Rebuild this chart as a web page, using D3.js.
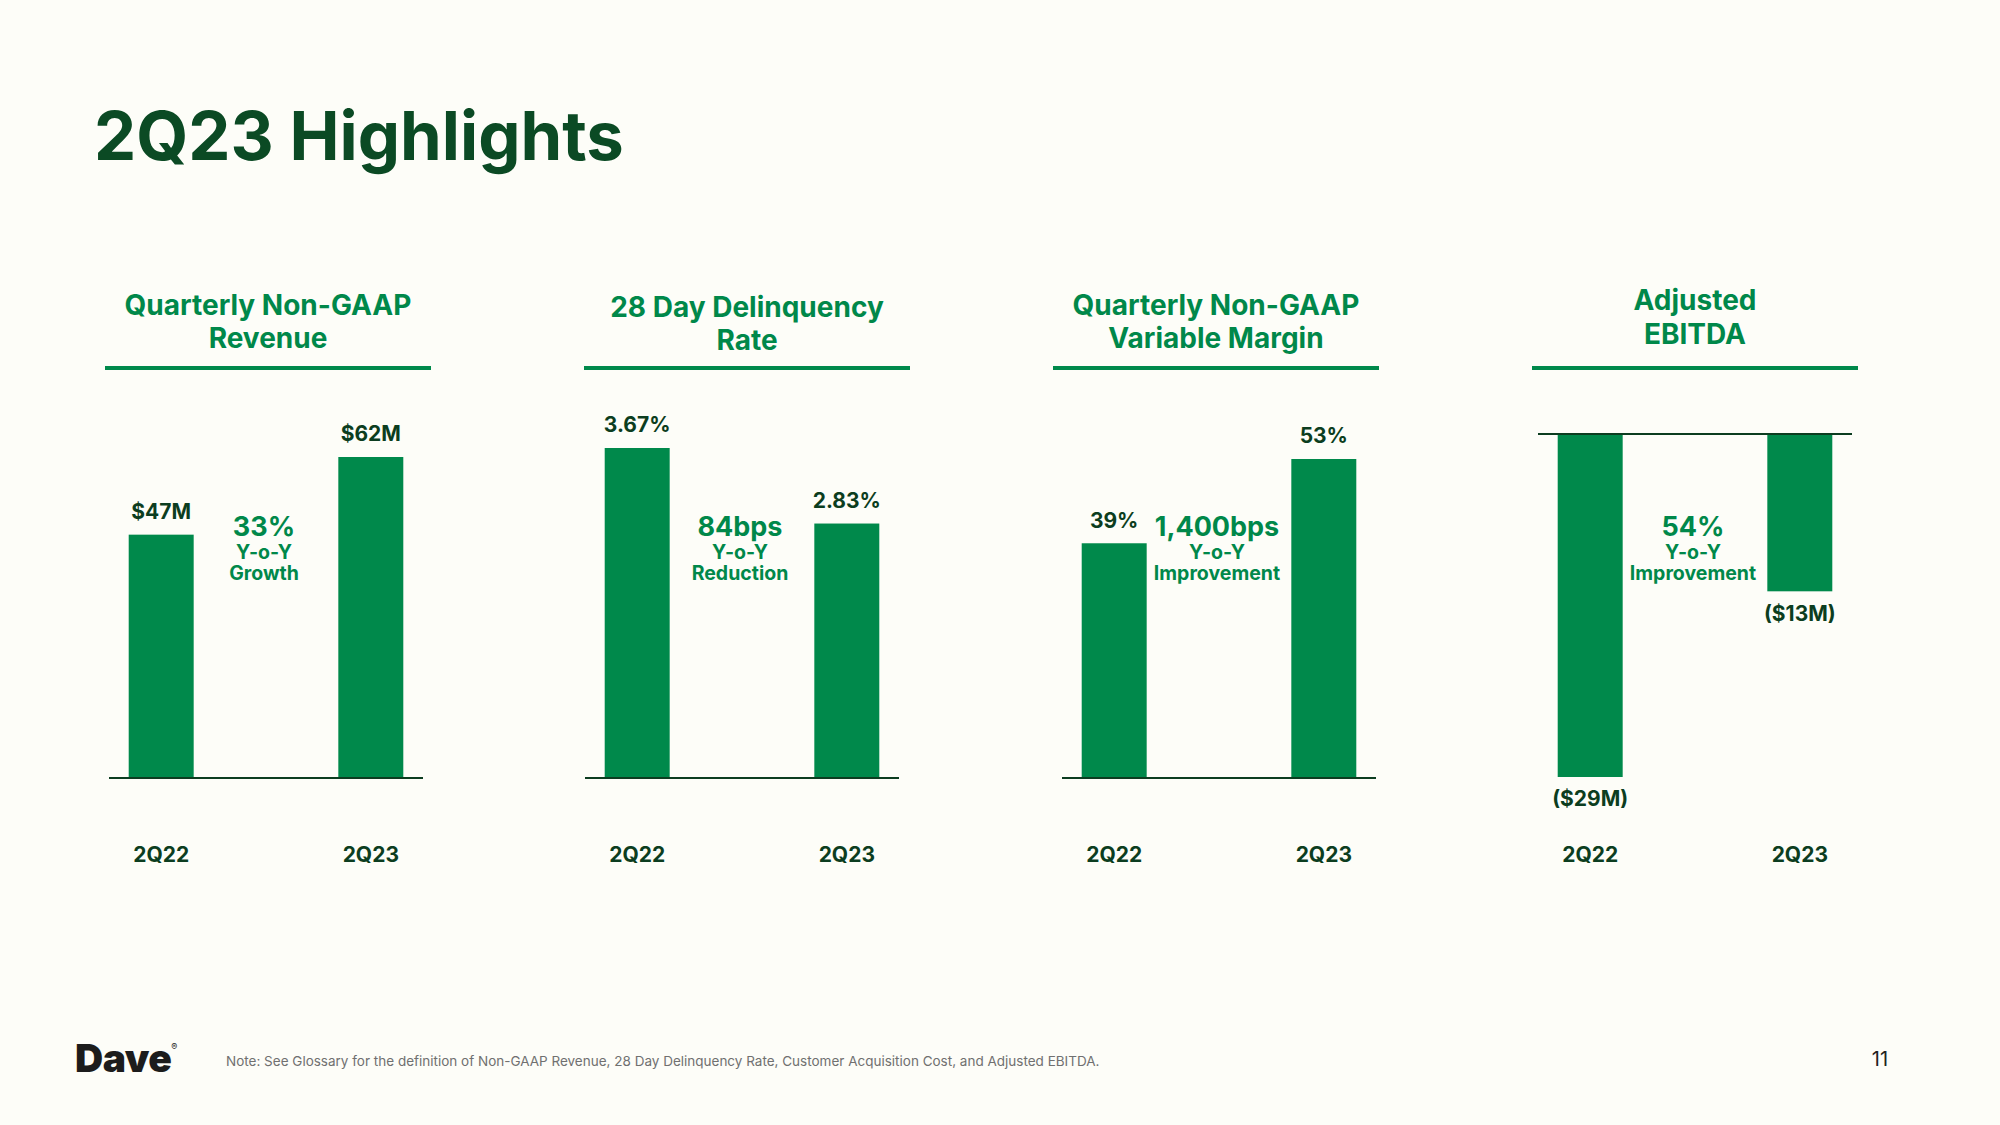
<!DOCTYPE html>
<html>
<head>
<meta charset="utf-8">
<script src="https://cdn.jsdelivr.net/npm/d3@7"></script>
<style>
  html, body { margin: 0; padding: 0; background: #fdfdf8; }
  svg { display: block; }
  text { font-family: Inter, "Noto Sans", sans-serif; }
</style>
</head>
<body>
<svg id="chart" width="2000" height="1125"></svg>
<script>
// ---------- data ----------
const categories = ["2Q22", "2Q23"];
const panelTitles = [
  ["Quarterly Non-GAAP", "Revenue"],
  ["28 Day Delinquency", "Rate"],
  ["Quarterly Non-GAAP", "Variable Margin"],
  ["Adjusted", "EBITDA"]
];
const revenue = [47, 62];
const delinquency = [3.67, 2.83];
const variableMargin = [39, 53];
const ebitda = [-29, -13.3];
const valueLabels = [
  ["$47M", "$62M"],
  ["3.67%", "2.83%"],
  ["39%", "53%"],
  ["($29M)", "($13M)"]
];
const changeValues = ["33%", "84bps", "1,400bps", "54%"];
const changeLine1 = ["Y-o-Y", "Y-o-Y", "Y-o-Y", "Y-o-Y"];
const changeLine2 = ["Growth", "Reduction", "Improvement", "Improvement"];
const mainTitle = "2Q23 Highlights";
const footNote = "Note: See Glossary for the definition of Non-GAAP Revenue, 28 Day Delinquency Rate, Customer Acquisition Cost, and Adjusted EBITDA.";
const pageNumber = "11";

// ---------- layout ----------
const seriesList = [revenue, delinquency, variableMargin, ebitda];
const underlineX = [105, 584, 1053, 1532];
const underlineW = 326;
const axisX0 = [109, 585, 1062, 1538];
const axisW = 314;
const titleY = [[305, 338], [307, 340], [305, 338], [300, 334]];
const baseY = 778;
// pixel extent mapped to the largest absolute value in each panel
const extentTop = [457, 448, 459, 434];

const C = {
  bar: "#00894b",
  green: "#00884a",
  dark: "#0c3d20",
  title: "#0b4a24"
};

const svg = d3.select("#chart");
svg.append("rect").attr("width", 2000).attr("height", 1125).attr("fill", "#fdfdf8");

svg.append("text")
  .attr("x", 94).attr("y", 160)
  .attr("font-size", 67).attr("font-weight", 700)
  .attr("fill", C.title)
  .text(mainTitle);

seriesList.forEach((vals, i) => {
  const g = svg.append("g");
  const negative = d3.max(vals) <= 0;

  const x = d3.scaleBand()
    .domain(categories)
    .range([axisX0[i], axisX0[i] + axisW])
    .paddingInner(0.69)
    .paddingOuter(0.094);

  let y;
  if (!negative) {
    y = d3.scaleLinear().domain([0, d3.max(vals)]).range([baseY, extentTop[i]]);
  } else {
    y = d3.scaleLinear().domain([d3.min(vals), 0]).range([baseY - 1, extentTop[i]]);
  }
  const zeroY = y(0);

  // panel title
  panelTitles[i].forEach((t, k) => {
    g.append("text")
      .attr("x", underlineX[i] + underlineW / 2)
      .attr("y", titleY[i][k])
      .attr("dy", "0.35em")
      .attr("text-anchor", "middle")
      .attr("font-size", 28).attr("font-weight", 700)
      .attr("fill", C.green)
      .text(t);
  });
  g.append("rect")
    .attr("x", underlineX[i]).attr("y", 366)
    .attr("width", underlineW).attr("height", 4)
    .attr("fill", C.bar);

  // bars
  g.selectAll("rect.bar")
    .data(vals)
    .join("rect")
    .attr("class", "bar")
    .attr("x", (d, j) => x(categories[j]))
    .attr("width", x.bandwidth())
    .attr("y", d => Math.min(y(d), zeroY))
    .attr("height", d => Math.abs(y(d) - zeroY))
    .attr("fill", C.bar);

  // axis / zero line
  g.append("line")
    .attr("x1", axisX0[i]).attr("x2", axisX0[i] + axisW)
    .attr("y1", zeroY).attr("y2", zeroY)
    .attr("stroke", C.dark).attr("stroke-width", 2);

  // value labels
  g.selectAll("text.val")
    .data(vals)
    .join("text")
    .attr("class", "val")
    .attr("x", (d, j) => x(categories[j]) + x.bandwidth() / 2)
    .attr("y", d => d >= 0 ? y(d) - 23 : y(d) + 22)
    .attr("dy", "0.35em")
    .attr("text-anchor", "middle")
    .attr("font-size", 21).attr("font-weight", 700)
    .attr("fill", C.dark)
    .text((d, j) => valueLabels[i][j]);

  // category labels
  g.selectAll("text.cat")
    .data(categories)
    .join("text")
    .attr("class", "cat")
    .attr("x", c => x(c) + x.bandwidth() / 2)
    .attr("y", 855)
    .attr("dy", "0.35em")
    .attr("text-anchor", "middle")
    .attr("font-size", 21).attr("font-weight", 700)
    .attr("fill", C.dark)
    .text(c => c);

  // change annotation
  const cx = (x(categories[0]) + x(categories[1]) + x.bandwidth()) / 2 - 2;
  g.append("text")
    .attr("x", cx).attr("y", 527).attr("dy", "0.35em")
    .attr("text-anchor", "middle")
    .attr("font-size", 27).attr("font-weight", 700)
    .attr("fill", C.green)
    .text(changeValues[i]);
  g.append("text")
    .attr("x", cx).attr("y", 552).attr("dy", "0.35em")
    .attr("text-anchor", "middle")
    .attr("font-size", 19.5).attr("font-weight", 700)
    .attr("fill", C.green)
    .text(changeLine1[i]);
  g.append("text")
    .attr("x", cx).attr("y", 573).attr("dy", "0.35em")
    .attr("text-anchor", "middle")
    .attr("font-size", 19.5).attr("font-weight", 700)
    .attr("fill", C.green)
    .text(changeLine2[i]);
});

// footer
const logo = svg.append("text")
  .attr("x", 75).attr("y", 1072)
  .attr("font-size", 39).attr("font-weight", 900)
  .attr("fill", "#1c1c1c")
  .attr("letter-spacing", -0.5);
logo.append("tspan").text("Dave");
logo.append("tspan").attr("font-size", 9).attr("dy", -22).attr("font-weight", 400).text("®");

svg.append("text")
  .attr("x", 226).attr("y", 1061).attr("dy", "0.35em")
  .attr("font-size", 13.5)
  .attr("fill", "#707070")
  .text(footNote);

svg.append("text")
  .attr("x", 1880).attr("y", 1059).attr("dy", "0.35em")
  .attr("text-anchor", "middle")
  .attr("font-size", 20)
  .attr("fill", "#222")
  .text(pageNumber);
</script>
</body>
</html>
